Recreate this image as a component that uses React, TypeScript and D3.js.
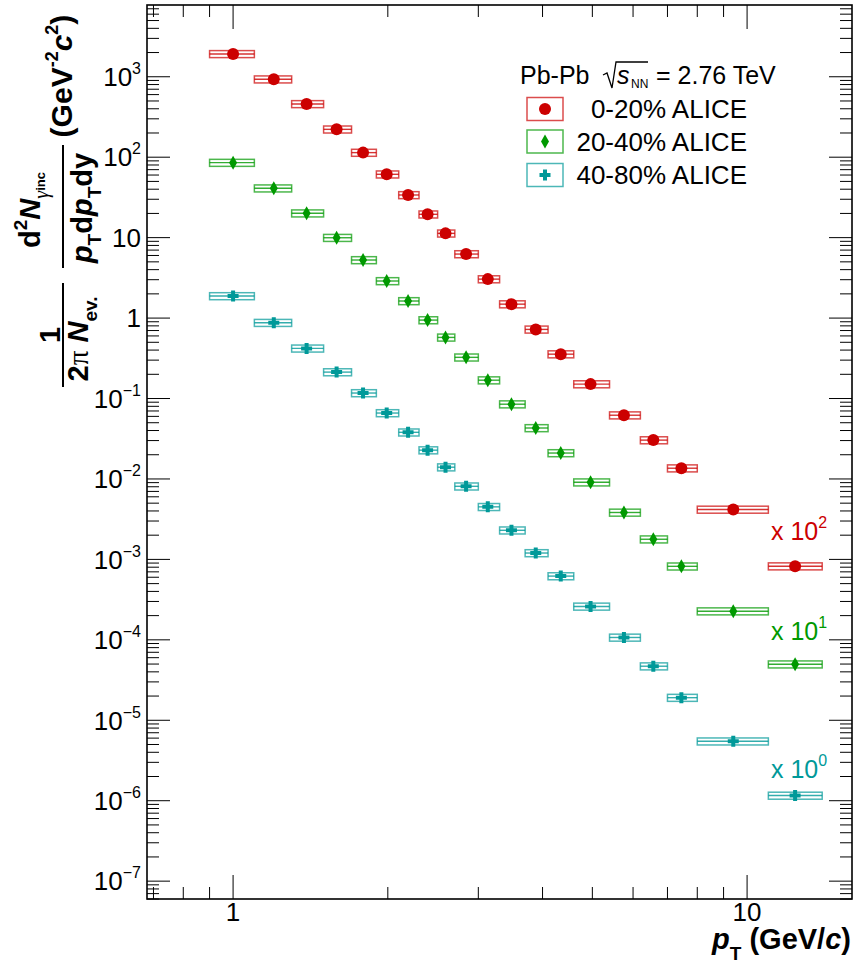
import React from 'react';
import * as d3 from 'd3';

// pT bin centres (marker positions) and bin edges, GeV/c
const PT = [1.0, 1.2, 1.39, 1.59, 1.79, 1.99, 2.19, 2.39, 2.59, 2.84, 3.13, 3.48, 3.88, 4.34, 4.96, 5.76, 6.57, 7.45, 9.4, 12.4];
const PT_LO = [0.9, 1.1, 1.3, 1.5, 1.7, 1.9, 2.1, 2.3, 2.5, 2.7, 3.0, 3.3, 3.7, 4.1, 4.6, 5.4, 6.2, 7.0, 8.0, 11.0];
const PT_HI = [1.1, 1.3, 1.5, 1.7, 1.9, 2.1, 2.3, 2.5, 2.7, 3.0, 3.3, 3.7, 4.1, 4.6, 5.4, 6.2, 7.0, 8.0, 11.0, 14.0];

// plotted yields (already multiplied by the displayed scale factor)
const Y_0_20 = [1922, 931, 459, 222, 114, 61.3, 33.9, 19.5, 11.3, 6.25, 3.05, 1.49, 0.723, 0.356, 0.151, 0.062, 0.0304, 0.0136, 4.17e-3, 8.23e-4];
const Y_20_40 = [85.5, 41.1, 20.1, 9.97, 5.27, 2.89, 1.63, 0.944, 0.575, 0.325, 0.169, 0.085, 0.043, 0.021, 0.0091, 3.83e-3, 1.78e-3, 8.2e-4, 2.27e-4, 4.97e-5];
const Y_40_80 = [1.88, 0.875, 0.42, 0.213, 0.117, 0.066, 0.038, 0.0228, 0.014, 0.0081, 0.0045, 0.0023, 0.0012, 6.2e-4, 2.6e-4, 1.07e-4, 4.7e-5, 1.91e-5, 5.48e-6, 1.16e-6];
const SYS_REL = 0.1;

const SERIES_LABELS = ['0-20% ALICE', '20-40% ALICE', '40-80% ALICE'];
const SERIES_SCALE_EXP = ['2', '1', '0'];
const SERIES_COLORS = ['#cc0000', '#009900', '#009999'];
const SERIES_MARKERS = ['circle', 'diamond', 'cross'];
const SERIES_DATA = [Y_0_20, Y_20_40, Y_40_80];

const X_DOMAIN = [0.68, 16];
const Y_DOMAIN = [6e-8, 7.8e3];
const X_MAJOR = [1, 10];

const FONT = 'Liberation Sans, Arial, Helvetica, sans-serif';
const SERIF = 'Liberation Serif, Times New Roman, serif';

function Marker({ kind, cx, cy, color }: { kind: string; cx: number; cy: number; color: string }) {
  if (kind === 'circle') return <circle cx={cx} cy={cy} r={6} fill={color} />;
  if (kind === 'diamond')
    return <path d={`M${cx},${cy - 7}L${cx + 4},${cy}L${cx},${cy + 7}L${cx - 4},${cy}Z`} fill={color} />;
  const a = 5.5, t = 2;
  return (
    <path
      d={`M${cx - t},${cy - a}h${2 * t}v${a - t}h${a - t}v${2 * t}h${-(a - t)}v${a - t}h${-2 * t}v${-(a - t)}h${-(a - t)}v${-2 * t}h${a - t}Z`}
      fill={color}
    />
  );
}

export default function App() {
  const W = 854, H = 971;
  const L = 147, R = 852, T = 5, B = 899;
  const x = d3.scaleLog().domain(X_DOMAIN).range([L, R]);
  const y = d3.scaleLog().domain(Y_DOMAIN).range([B, T]);

  const xMinor: number[] = [];
  for (let e = -1; e <= 1; e++) for (let k = 1; k <= 9; k++) {
    const v = k * Math.pow(10, e);
    if (v >= X_DOMAIN[0] && v <= X_DOMAIN[1]) xMinor.push(v);
  }
  const yTicks: { v: number; major: boolean; e: number }[] = [];
  for (let e = -8; e <= 3; e++) for (let k = 1; k <= 9; k++) {
    const v = k * Math.pow(10, e);
    if (v >= Y_DOMAIN[0] && v <= Y_DOMAIN[1]) yTicks.push({ v, major: k === 1, e });
  }

  const yLabel = (e: number) => {
    if (e === 0) return <>1</>;
    if (e === 1) return <>10</>;
    const s = e < 0 ? '\u2212' + String(-e) : String(e);
    return (
      <>
        10<tspan fontSize={16} dy={-12}>{s}</tspan>
      </>
    );
  };

  const legendRows = [109, 141.5, 175];
  const scaleLabelY = [540, 640, 778];

  return (
    <svg width={W} height={H} style={{ position: 'absolute', left: 0, top: 0, background: '#fff' }} fontFamily={FONT}>
      <rect x={0} y={0} width={W} height={H} fill="#fff" />

      {/* data */}
      {SERIES_DATA.map((data, si) => {
        const c = SERIES_COLORS[si];
        return (
          <g key={si}>
            {data.map((v, i) => {
              const x0 = x(PT_LO[i]), x1 = x(PT_HI[i]);
              const yt = y(v * (1 + SYS_REL)), yb = y(v * (1 - SYS_REL));
              return (
                <g key={i}>
                  <rect x={x0} y={yt} width={x1 - x0} height={yb - yt} fill="none" stroke={c} strokeOpacity={0.7} strokeWidth={1.5} />
                  <line x1={x0} x2={x1} y1={y(v)} y2={y(v)} stroke={c} strokeOpacity={0.8} strokeWidth={1.4} />
                  <Marker kind={SERIES_MARKERS[si]} cx={x(PT[i])} cy={y(v)} color={c} />
                </g>
              );
            })}
          </g>
        );
      })}

      {/* axes ticks */}
      <g stroke="#000" strokeWidth={1}>
        {xMinor.map((v, i) => {
          const len = X_MAJOR.includes(v) ? 24 : 12;
          const xv = x(v);
          return (
            <g key={i}>
              <line x1={xv} x2={xv} y1={B} y2={B - len} />
              <line x1={xv} x2={xv} y1={T} y2={T + len} />
            </g>
          );
        })}
        {yTicks.map((t, i) => {
          const len = t.major ? 23 : 12;
          const yv = y(t.v);
          return (
            <g key={i}>
              <line x1={L} x2={L + len} y1={yv} y2={yv} />
              <line x1={R} x2={R - len} y1={yv} y2={yv} />
            </g>
          );
        })}
      </g>
      <rect x={L} y={T} width={R - L} height={B - T} fill="none" stroke="#000" strokeWidth={1.6} />

      {/* y tick labels */}
      {yTicks.filter((t) => t.major).map((t, i) => (
        <text key={i} x={141} y={y(t.v) + 9.3} fontSize={26} textAnchor="end">
          {yLabel(t.e)}
        </text>
      ))}
      {/* x tick labels */}
      {X_MAJOR.map((v, i) => (
        <text key={i} x={x(v)} y={921} fontSize={26} textAnchor="middle">
          {String(v)}
        </text>
      ))}

      {/* x title */}
      <text x={851} y={949} fontSize={29} fontWeight="bold" textAnchor="end">
        <tspan fontStyle="italic">p</tspan>
        <tspan fontSize={19} dy={11}>T</tspan>
        <tspan dy={-11}> (GeV/</tspan>
        <tspan fontStyle="italic">c</tspan>
        <tspan>)</tspan>
      </text>

      {/* y title (rotated) */}
      <g transform="rotate(-90)" fontWeight="bold">
        <text x={-335} y={60} fontSize={29} textAnchor="middle">1</text>
        <line x1={-387} x2={-283} y1={63} y2={63} stroke="#000" strokeWidth={2} />
        <text x={-339} y={88} fontSize={29} textAnchor="middle">
          <tspan>2</tspan>
          <tspan fontFamily={SERIF} fontWeight="normal">π</tspan>
          <tspan> </tspan>
          <tspan fontStyle="italic">N</tspan>
          <tspan fontSize={19} dy={9}>ev.</tspan>
        </text>

        <text x={-248} y={40} fontSize={29}>
          <tspan>d</tspan>
          <tspan fontSize={19} dy={-13}>2</tspan>
          <tspan dy={13} fontStyle="italic">N</tspan>
          <tspan fontSize={20} dy={8} fontFamily={SERIF} fontWeight="normal" fontStyle="italic">γ</tspan>
          <tspan fontSize={13} dy={-3}>inc</tspan>
        </text>
        <line x1={-268} x2={-145} y1={63} y2={63} stroke="#000" strokeWidth={2} />
        <text x={-208} y={92} fontSize={29} textAnchor="middle">
          <tspan fontStyle="italic">p</tspan>
          <tspan fontSize={19} dy={9}>T</tspan>
          <tspan dy={-9}>d</tspan>
          <tspan fontStyle="italic">p</tspan>
          <tspan fontSize={19} dy={9}>T</tspan>
          <tspan dy={-9}>dy</tspan>
        </text>

        <text x={-76} y={72} fontSize={30} textAnchor="middle">
          <tspan>(GeV</tspan>
          <tspan fontSize={18} dy={-14}>-2</tspan>
          <tspan dy={14} fontStyle="italic">c</tspan>
          <tspan fontSize={18} dy={-14}>2</tspan>
          <tspan dy={14}>)</tspan>
        </text>
      </g>

      {/* legend */}
      <text x={520} y={84} fontSize={25}>Pb-Pb</text>
      <path d="M603,75 L607,73 L612,88 L616,62 L648,62" fill="none" stroke="#000" strokeWidth={1.3} />
      <text x={617} y={84} fontSize={25} fontStyle="italic">s</text>
      <text x={631} y={88} fontSize={12}>NN</text>
      <text x={656} y={84} fontSize={25}>= 2.76 TeV</text>
      {SERIES_LABELS.map((lab, si) => {
        const ry = legendRows[si];
        const c = SERIES_COLORS[si];
        return (
          <g key={si}>
            <rect x={527} y={ry - 11.5} width={36} height={23} fill="none" stroke={c} strokeOpacity={0.7} strokeWidth={1.5} />
            <Marker kind={SERIES_MARKERS[si]} cx={545} cy={ry} color={c} />
            <text x={747} y={ry + 9} fontSize={26} textAnchor="end">{lab}</text>
          </g>
        );
      })}

      {/* scale labels */}
      {SERIES_SCALE_EXP.map((ex, si) => (
        <text key={si} x={771} y={scaleLabelY[si]} fontSize={25} fill={SERIES_COLORS[si]}>
          x 10<tspan fontSize={16} dy={-12}>{ex}</tspan>
        </text>
      ))}
    </svg>
  );
}
